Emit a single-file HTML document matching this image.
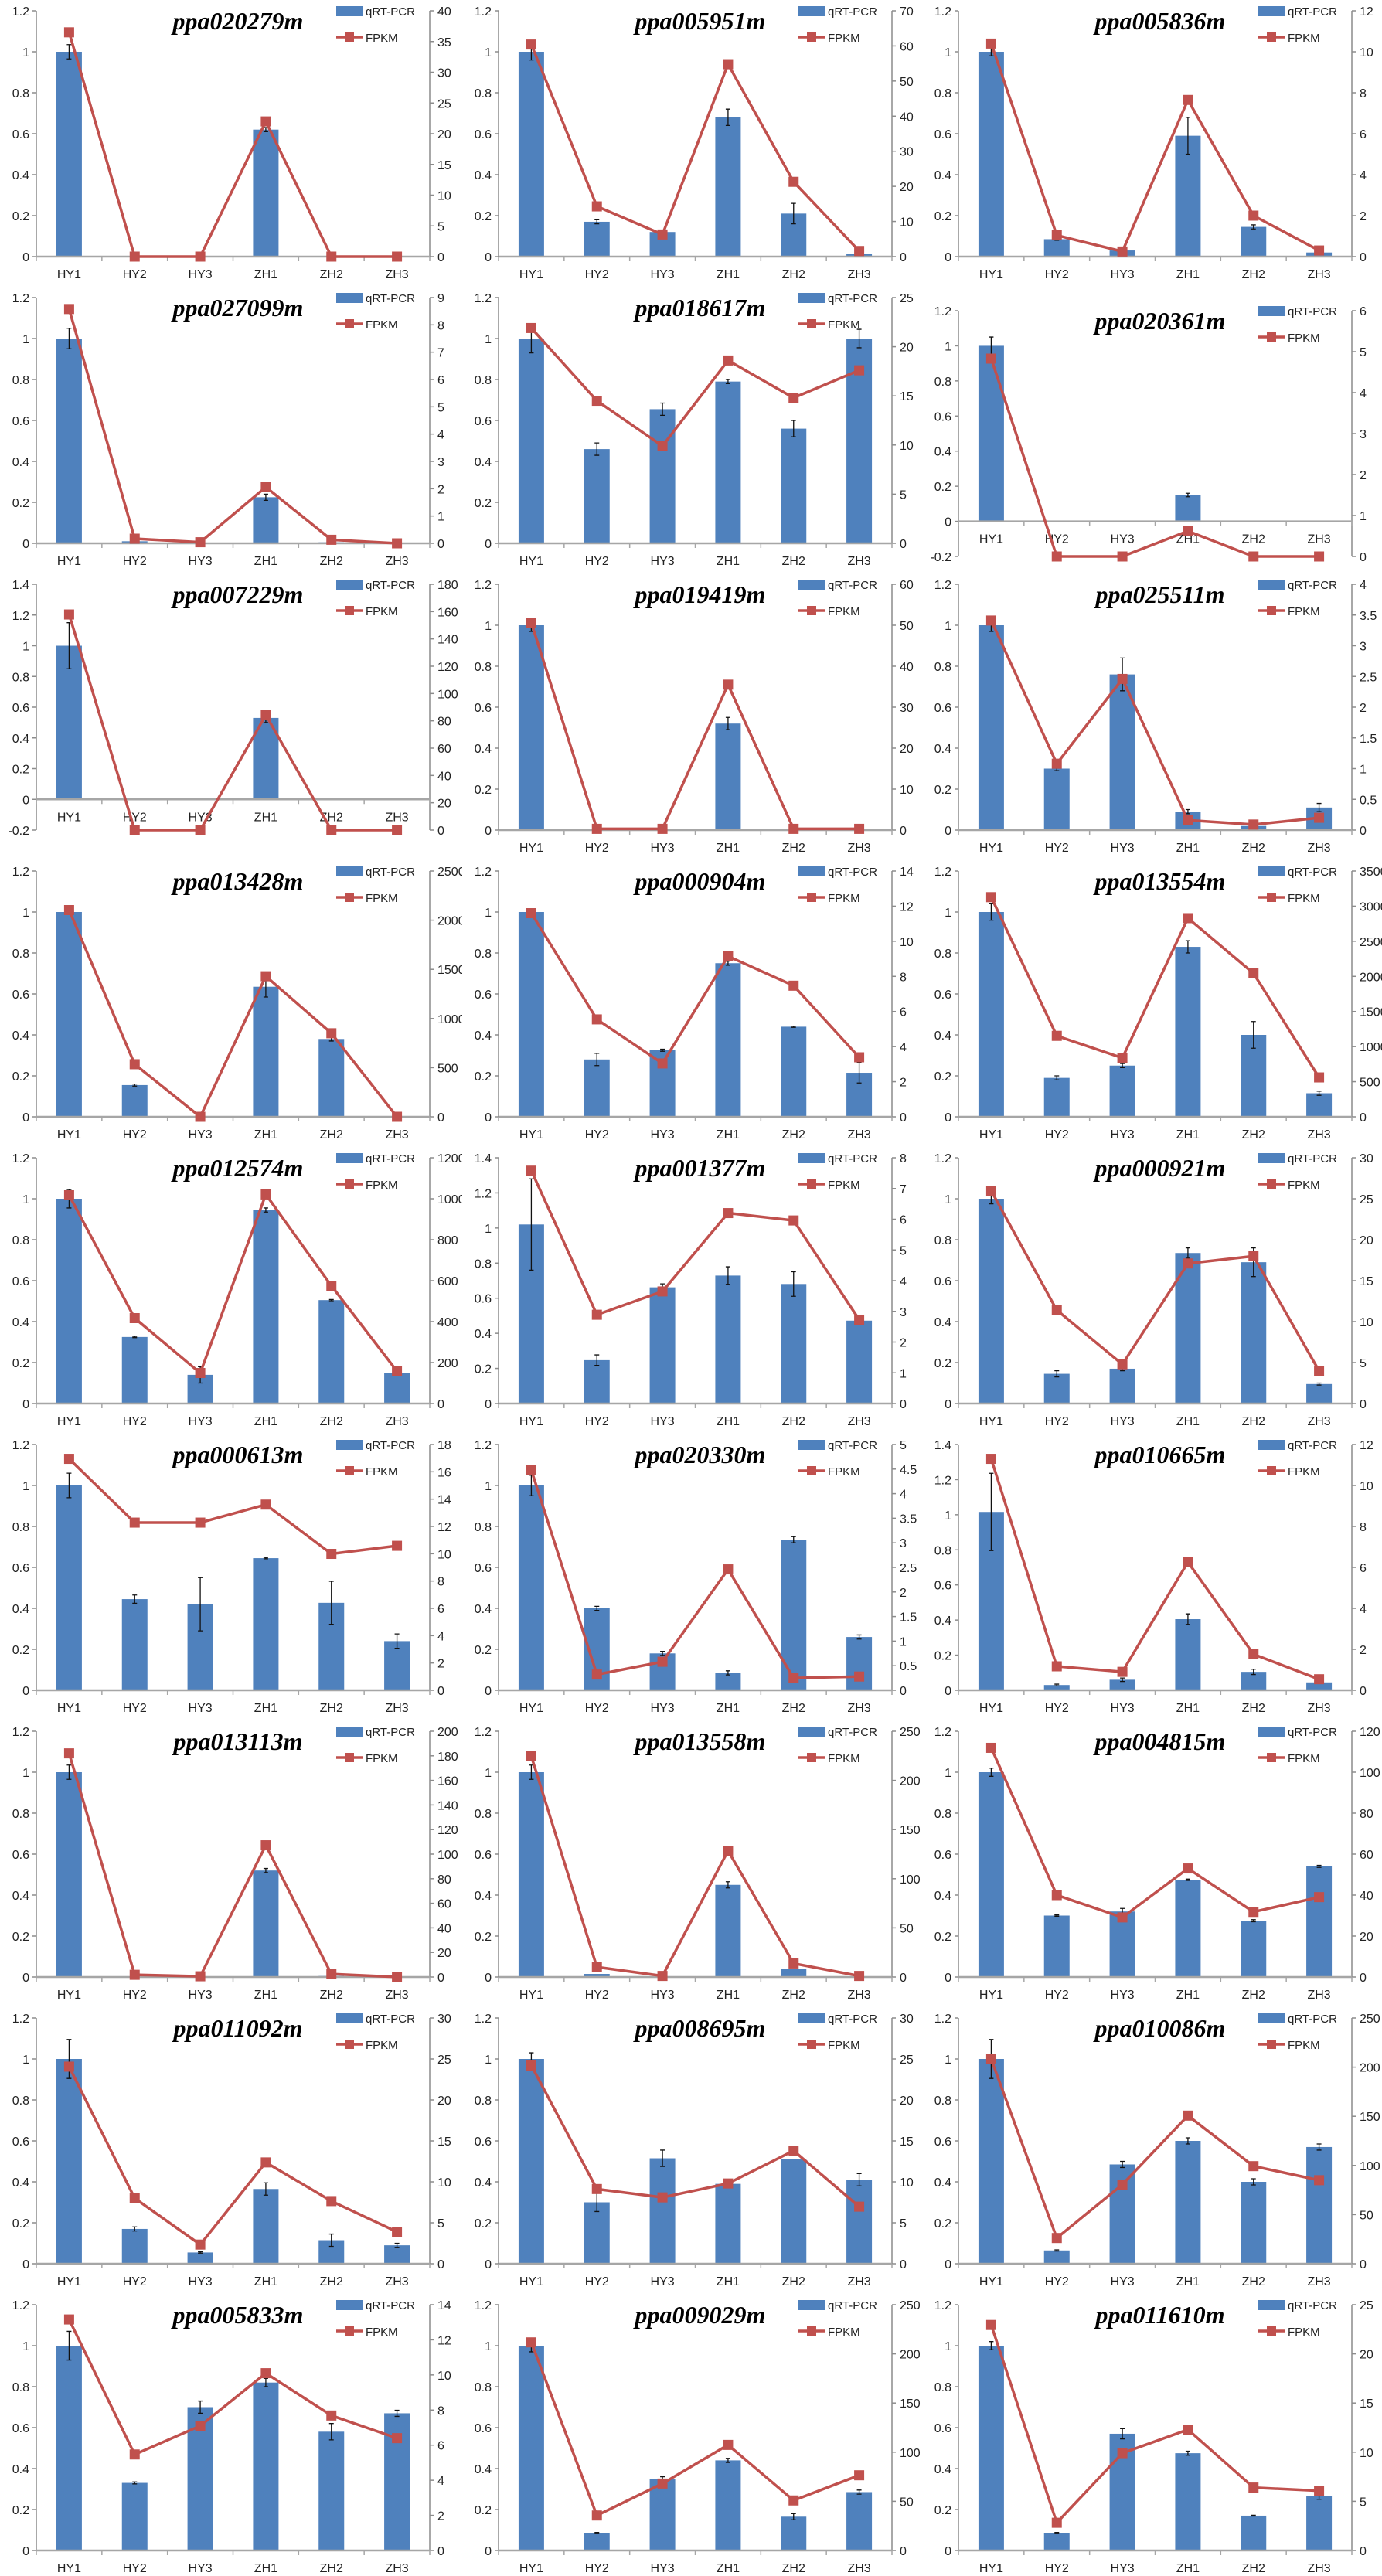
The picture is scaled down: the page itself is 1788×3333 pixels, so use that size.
<!DOCTYPE html>
<html>
<head>
<meta charset="utf-8">
<style>
  html,body{margin:0;padding:0;background:#fff;}
  svg{display:block;}
  text{font-family:"Liberation Sans",sans-serif;}
  .title{font-family:"Liberation Serif",serif;font-weight:bold;font-style:italic;font-size:32px;}
  .tick{font-size:16px;fill:#222;}
  .cat{font-size:16px;fill:#222;}
  .leg{font-size:15px;fill:#222;}
</style>
</head>
<body>
<svg id="fig" width="1788" height="3333" viewBox="0 0 1788 3333" xmlns="http://www.w3.org/2000/svg"></svg>
<script>
const categories = ["HY1","HY2","HY3","ZH1","ZH2","ZH3"];
const geneNames = ["ppa020279m","ppa005951m","ppa005836m","ppa027099m","ppa018617m","ppa020361m","ppa007229m","ppa019419m","ppa025511m","ppa013428m","ppa000904m","ppa013554m","ppa012574m","ppa001377m","ppa000921m","ppa000613m","ppa020330m","ppa010665m","ppa013113m","ppa013558m","ppa004815m","ppa011092m","ppa008695m","ppa010086m","ppa005833m","ppa009029m","ppa011610m"];
const leftAxisMin = [0,0,0, 0,0,-0.2, -0.2,0,0, 0,0,0, 0,0,0, 0,0,0, 0,0,0, 0,0,0, 0,0,0];
const leftAxisMax = [1.2,1.2,1.2, 1.2,1.2,1.2, 1.4,1.2,1.2, 1.2,1.2,1.2, 1.2,1.4,1.2, 1.2,1.2,1.4, 1.2,1.2,1.2, 1.2,1.2,1.2, 1.2,1.2,1.2];
const rightAxisMax = [40,70,12, 9,25,6, 180,60,4, 2500,14,3500, 1200,8,30, 18,5,12, 200,250,120, 30,30,250, 14,250,25];
const rightAxisStep = [5,10,2, 1,5,1, 20,10,0.5, 500,2,500, 200,1,5, 2,0.5,2, 20,50,20, 5,5,50, 2,50,5];
const qpcrValues = [
 [1,0,0,0.62,0,0],
 [1,0.17,0.12,0.68,0.21,0.015],
 [1,0.085,0.03,0.59,0.145,0.02],
 [1,0.01,0,0.225,0.005,0],
 [1,0.46,0.655,0.79,0.56,1.0],
 [1,0.003,0.003,0.15,0.002,0.002],
 [1,0,0,0.53,0,0],
 [1,0,0,0.52,0,0],
 [1,0.3,0.76,0.09,0.02,0.11],
 [1,0.155,0,0.635,0.38,0],
 [1,0.28,0.325,0.75,0.44,0.215],
 [1,0.19,0.25,0.83,0.40,0.115],
 [1,0.325,0.14,0.945,0.505,0.15],
 [1.02,0.247,0.662,0.729,0.681,0.472],
 [1,0.145,0.17,0.735,0.69,0.095],
 [1,0.445,0.42,0.645,0.427,0.24],
 [1,0.40,0.18,0.085,0.735,0.26],
 [1.016,0.03,0.06,0.405,0.105,0.045],
 [1,0,0,0.52,0.005,0],
 [1,0.015,0,0.45,0.04,0],
 [1,0.3,0.32,0.475,0.275,0.54],
 [1,0.17,0.055,0.365,0.115,0.09],
 [1,0.30,0.515,0.39,0.51,0.41],
 [1,0.065,0.485,0.60,0.40,0.57],
 [1,0.33,0.70,0.82,0.58,0.67],
 [1,0.085,0.35,0.44,0.165,0.285],
 [1,0.085,0.57,0.475,0.17,0.265]
];
const qpcrErrors = [
 [0.035,0,0,0.01,0,0],
 [0.04,0.01,0.005,0.04,0.05,0.005],
 [0.02,0.005,0.005,0.09,0.01,0.005],
 [0.05,0,0,0.015,0,0],
 [0.07,0.03,0.03,0.01,0.04,0.045],
 [0.05,0,0,0.01,0,0],
 [0.15,0,0,0.03,0,0],
 [0.03,0,0,0.03,0,0],
 [0.03,0.01,0.08,0.01,0.005,0.02],
 [0.005,0.005,0,0.05,0.01,0],
 [0.01,0.03,0.005,0.01,0.003,0.05],
 [0.04,0.01,0.01,0.03,0.065,0.01],
 [0.045,0.003,0.04,0.01,0.003,0],
 [0.26,0.03,0.02,0.05,0.07,0],
 [0.025,0.015,0.01,0.025,0.07,0.005],
 [0.06,0.02,0.13,0.003,0.105,0.035],
 [0.05,0.01,0.01,0.01,0.015,0.01],
 [0.22,0.005,0.01,0.03,0.015,0.005],
 [0.035,0,0,0.01,0,0],
 [0.035,0,0,0.015,0,0],
 [0.02,0.003,0.015,0.003,0.005,0.005],
 [0.095,0.01,0.003,0.03,0.03,0.01],
 [0.03,0.045,0.04,0,0,0.03],
 [0.095,0.003,0.015,0.015,0.015,0.015],
 [0.07,0.005,0.03,0.02,0.04,0.015],
 [0.03,0.003,0.01,0.01,0.015,0.01],
 [0.02,0.003,0.025,0.01,0.002,0.015]
];
const fpkmValues = [
 [36.5,0,0,22,0,0],
 [60.4,14.3,6.3,54.8,21.3,1.6],
 [10.4,1.04,0.25,7.65,2.0,0.3],
 [8.58,0.17,0.04,2.06,0.13,0],
 [21.9,14.5,9.9,18.6,14.8,17.6],
 [4.83,0,0,0.62,0,0],
 [157.9,0,0,84.3,0,0],
 [50.6,0.3,0.3,35.5,0.3,0.3],
 [3.41,1.08,2.46,0.16,0.09,0.2],
 [2103,535,0,1430,850,0],
 [11.6,5.55,3.04,9.15,7.47,3.39],
 [3128,1153,838,2829,2043,561],
 [1017,417,149,1021,575,158],
 [7.58,2.89,3.65,6.2,5.96,2.73],
 [25.97,11.4,4.79,17.1,18.0,3.99],
 [16.95,12.28,12.28,13.6,9.99,10.58],
 [4.48,0.32,0.58,2.46,0.25,0.28],
 [11.3,1.17,0.9,6.26,1.76,0.54],
 [182,1.8,0.6,107.2,2.4,0],
 [224.5,10.1,1.1,128.4,13.8,1.1],
 [111.9,40,29.1,53,31.8,39],
 [24.06,8.0,2.34,12.37,7.65,3.9],
 [24.2,9.12,8.1,9.8,13.8,6.97],
 [208,26.2,80.6,150.7,99.3,85],
 [13.16,5.47,7.1,10.1,7.69,6.4],
 [211.7,35.6,68.1,107.4,50.9,76.5],
 [22.94,2.82,9.9,12.3,6.4,6.07]
];
const leftStep = 0.2;

const NS = "http://www.w3.org/2000/svg";
const fig = document.getElementById("fig");
const colX = [0, 598, 1193];
const rowPitch = 371;
function mk(parent, tag, attrs, text){
  const e = document.createElementNS(NS, tag);
  for (const k in attrs) e.setAttribute(k, attrs[k]);
  if (text !== undefined) e.textContent = text;
  parent.appendChild(e);
  return e;
}
function fmt(v){ return String(Number(v.toFixed(3))); }

for (let p = 0; p < geneNames.length; p++){
  const col = p % 3, row = Math.floor(p / 3);
  const dy = (p === 5) ? 17 : 0;
  const panel = mk(fig, "svg", {x: colX[col], y: row*rowPitch, width: (col<2 ? colX[col+1]-colX[col] : 1788-colX[col]), height: rowPitch, overflow:"hidden"});
  
  

  const L = 47, R = 556, T = 14 + dy, B = 332 + dy;
  const lmin = leftAxisMin[p], lmax = leftAxisMax[p];
  const rmax = rightAxisMax[p];
  const yL = v => B - (v - lmin) / (lmax - lmin) * (B - T);
  const yR = v => B - v / rmax * (B - T);
  const band = (R - L) / categories.length;
  const xC = i => L + band * (i + 0.5);
  const zeroY = yL(0);

  // left axis
  const la = mk(panel, "line", {x1:L, y1:T, x2:L, y2:B, stroke:"#8c8c8c", "stroke-width":1.5});
  
  
  const nL = Math.round((lmax - lmin) / leftStep);
  for (let k = 0; k <= nL; k++){
    const v = lmin + k * leftStep;
    const y = yL(v);
    mk(panel, "line", {x1:L-5, y1:y, x2:L, y2:y, stroke:"#8c8c8c", "stroke-width":1.5});
    const t = mk(panel, "text", {x:L-9, y:y+6, "text-anchor":"end", class:"tick"}, fmt(v));
    
    
  }
  // right axis
  const ra = mk(panel, "line", {x1:R, y1:T, x2:R, y2:B, stroke:"#8c8c8c", "stroke-width":1.5});
  
  
  const nR = Math.round(rmax / rightAxisStep[p]);
  for (let k = 0; k <= nR; k++){
    const v = k * rightAxisStep[p];
    const y = yR(v);
    mk(panel, "line", {x1:R, y1:y, x2:R+5, y2:y, stroke:"#8c8c8c", "stroke-width":1.5});
    const t = mk(panel, "text", {x:R+10, y:y+6, "text-anchor":"start", class:"tick"}, fmt(v));
    
    
  }

  // bars
  for (let i = 0; i < categories.length; i++){
    const v = qpcrValues[p][i];
    const y = yL(v);
    const bw = 33;
    const bar = mk(panel, "rect", {x:xC(i)-bw/2, y:Math.min(y, zeroY), width:bw, height:Math.max(Math.abs(zeroY-y), 0.5), fill:"#4f81bd"});
    
    
    const e = qpcrErrors[p][i];
    if (e > 0){
      const y1 = yL(v + e), y2 = yL(v - e);
      const eb = mk(panel, "path", {d:`M${xC(i)},${y1}V${y2}M${xC(i)-3},${y1}h6M${xC(i)-3},${y2}h6`, stroke:"#111", "stroke-width":1.3, fill:"none"});
      
      
    }
  }

  // x axis
  const xa = mk(panel, "line", {x1:L, y1:zeroY, x2:R, y2:zeroY, stroke:"#a6a6a6", "stroke-width":2.5});
  
  
  for (let i = 0; i <= categories.length; i++){
    mk(panel, "line", {x1:L+band*i, y1:zeroY, x2:L+band*i, y2:zeroY+6, stroke:"#a6a6a6", "stroke-width":1.5});
  }
  for (let i = 0; i < categories.length; i++){
    const t = mk(panel, "text", {x:xC(i), y:zeroY+28, "text-anchor":"middle", class:"cat"}, categories[i]);
    
    
  }

  // FPKM line
  const pts = fpkmValues[p].map((v,i) => `${xC(i)},${yR(v)}`).join(" ");
  const pl = mk(panel, "polyline", {points:pts, fill:"none", stroke:"#c0504d", "stroke-width":3.5, "stroke-linejoin":"round"});
  
  
  fpkmValues[p].forEach((v,i) => {
    const m = mk(panel, "rect", {x:xC(i)-6.5, y:yR(v)-6.5, width:13, height:13, fill:"#c0504d"});
    
    
  });

  // title
  const tt = mk(panel, "text", {x:308, y:T+24, "text-anchor":"middle", class:"title"}, geneNames[p]);
  
  

  // legend
  const lg = mk(panel, "g", {});
  
  
  mk(lg, "rect", {x:435, y:T-6, width:34, height:13, fill:"#4f81bd"});
  mk(lg, "text", {x:473, y:T+6, class:"leg"}, "qRT-PCR");
  mk(lg, "line", {x1:435, y1:T+34, x2:469, y2:T+34, stroke:"#c0504d", "stroke-width":3.5});
  mk(lg, "rect", {x:446, y:T+28, width:12, height:12, fill:"#c0504d"});
  mk(lg, "text", {x:473, y:T+40, class:"leg"}, "FPKM");
}
</script>
</body>
</html>
